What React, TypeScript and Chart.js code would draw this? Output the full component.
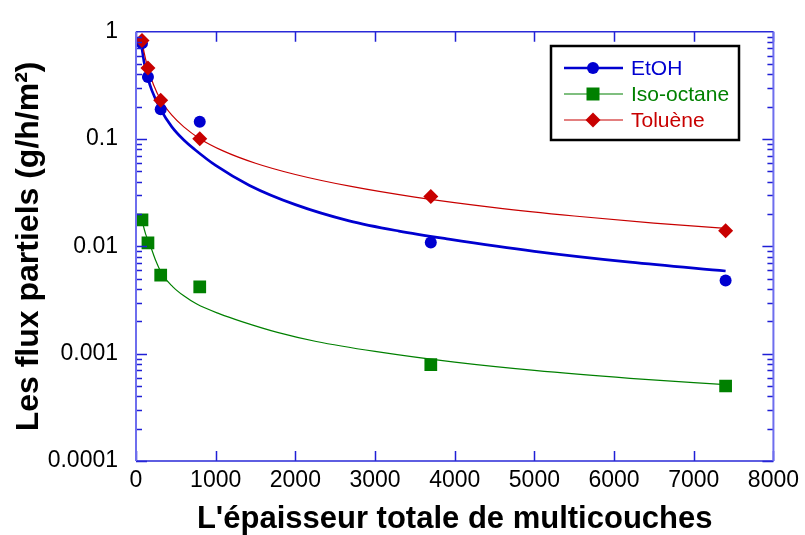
import React, { useEffect, useRef } from 'react';
import { Chart, registerables } from 'chart.js';

Chart.register(...registerables);

// ---- axis ticks ----
const X_TICK_VALUES = [0, 1000, 2000, 3000, 4000, 5000, 6000, 7000, 8000];
const X_TICK_LABELS = ['0', '1000', '2000', '3000', '4000', '5000', '6000', '7000', '8000'];
const Y_TICK_VALUES = [0.0001, 0.001, 0.01, 0.1, 1];
const Y_TICK_LABELS = ['0.0001', '0.001', '0.01', '0.1', '1'];

// ---- measured points ----
const THICKNESS = [75, 150, 310, 800, 3700, 7400];
const ETOH = [0.78, 0.38, 0.19, 0.145, 0.0109, 0.0048];
const ISO_OCTANE = [0.0177, 0.0108, 0.0054, 0.0042, 0.00079, 0.0005];
const TOLUENE = [0.83, 0.46, 0.23, 0.101, 0.0292, 0.014];

// ---- fitted curves ----
const FIT_ETOH_X = [60, 100, 146, 200, 309, 450, 600, 737, 1000, 1425, 2000, 2675, 3300, 3925, 5000, 6200, 7400];
const FIT_ETOH_Y = [0.84, 0.53, 0.378, 0.283, 0.189, 0.13, 0.098, 0.08, 0.0568, 0.037, 0.0245, 0.0173, 0.0139, 0.0117, 0.009, 0.00713, 0.0059];
const FIT_TOL_X = [65, 100, 150, 220, 313, 450, 600, 800, 1100, 1500, 2000, 2700, 3500, 4500, 5500, 6500, 7400];
const FIT_TOL_Y = [0.93, 0.65, 0.46, 0.321, 0.23, 0.167, 0.13, 0.101, 0.0773, 0.0596, 0.0468, 0.0362, 0.0288, 0.023, 0.0192, 0.0165, 0.0147];
const FIT_ISO_X = [75, 120, 175, 250, 325, 463, 600, 763, 1050, 1338, 1775, 2263, 3000, 4000, 5000, 6200, 7400];
const FIT_ISO_Y = [0.0175, 0.0131, 0.0104, 0.0073, 0.00555, 0.0042, 0.00346, 0.0029, 0.00235, 0.00198, 0.00158, 0.0013, 0.00105, 0.000834, 0.000698, 0.00059, 0.000514];

const SERIES_NAMES = ['EtOH', 'Iso-octane', 'Toluène'];
const BLUE = '#0000d0';
const GREEN = '#008000';
const RED = '#c80000';

const FONT = "'Liberation Sans', Arial, sans-serif";

const zip = (xs: number[], ys: number[]) => xs.map((x, i) => ({ x, y: ys[i] }));

const framePlugin = {
  id: 'frameTicksLegend',
  afterDraw(chart: any) {
    const { ctx, chartArea: a, scales } = chart;
    const xs = scales.x;
    const ys = scales.y;
    ctx.save();
    // inward ticks
    ctx.strokeStyle = '#1f1fd6';
    ctx.lineWidth = 1.5;
    ctx.beginPath();
    X_TICK_VALUES.forEach((v) => {
      const px = Math.round(xs.getPixelForValue(v)) + 0.5;
      ctx.moveTo(px, a.bottom);
      ctx.lineTo(px, a.bottom - 10);
      ctx.moveTo(px, a.top);
      ctx.lineTo(px, a.top + 10);
    });
    for (let d = 0; d < Y_TICK_VALUES.length - 1; d++) {
      for (let k = 1; k <= 9; k++) {
        const v = Y_TICK_VALUES[d] * k;
        const py = Math.round(ys.getPixelForValue(v)) + 0.5;
        const len = k === 1 ? 11 : 6;
        ctx.moveTo(a.left, py);
        ctx.lineTo(a.left + len, py);
        ctx.moveTo(a.right, py);
        ctx.lineTo(a.right - len, py);
      }
    }
    ctx.stroke();
    // frame
    ctx.strokeStyle = '#2a2ad8';
    ctx.lineWidth = 1.5;
    ctx.beginPath();
    ctx.moveTo(a.left, a.top);
    ctx.lineTo(a.right, a.top);
    ctx.moveTo(a.left, a.bottom);
    ctx.lineTo(a.right, a.bottom);
    ctx.stroke();
    ctx.strokeStyle = '#6e6eee';
    ctx.lineWidth = 2;
    ctx.beginPath();
    ctx.moveTo(a.left, a.top);
    ctx.lineTo(a.left, a.bottom);
    ctx.moveTo(a.right, a.top);
    ctx.lineTo(a.right, a.bottom);
    ctx.stroke();

    // legend
    const lx = 551, ly = 46, lw = 188, lh = 94;
    ctx.fillStyle = '#ffffff';
    ctx.fillRect(lx, ly, lw, lh);
    ctx.strokeStyle = '#000000';
    ctx.lineWidth = 2.5;
    ctx.strokeRect(lx, ly, lw, lh);
    const colors = [BLUE, GREEN, RED];
    const widths = [2.7, 1.2, 1.2];
    const rows = [68, 94, 120];
    ctx.font = `21px ${FONT}`;
    ctx.textBaseline = 'middle';
    ctx.textAlign = 'left';
    rows.forEach((ry, i) => {
      ctx.strokeStyle = colors[i];
      ctx.lineWidth = widths[i];
      ctx.beginPath();
      ctx.moveTo(564, ry);
      ctx.lineTo(623, ry);
      ctx.stroke();
      ctx.fillStyle = colors[i];
      const mx = 593;
      ctx.beginPath();
      if (i === 0) {
        ctx.arc(mx, ry, 6, 0, Math.PI * 2);
      } else if (i === 1) {
        ctx.rect(mx - 6.5, ry - 6.5, 13, 13);
      } else {
        ctx.moveTo(mx - 7.5, ry);
        ctx.lineTo(mx, ry - 7.5);
        ctx.lineTo(mx + 7.5, ry);
        ctx.lineTo(mx, ry + 7.5);
        ctx.closePath();
      }
      ctx.fill();
      ctx.fillText(SERIES_NAMES[i], 631, ry + 1);
    });
    ctx.restore();
  },
};

export default function App() {
  const ref = useRef<HTMLCanvasElement | null>(null);
  useEffect(() => {
    if (!ref.current) return;
    const chart = new Chart(ref.current, {
      type: 'scatter',
      data: {
        datasets: [
          {
            label: 'fit ' + SERIES_NAMES[0],
            data: zip(FIT_ETOH_X, FIT_ETOH_Y),
            showLine: true,
            borderColor: BLUE,
            borderWidth: 2.7,
            pointRadius: 0,
            cubicInterpolationMode: 'monotone',
            order: 5,
          } as any,
          {
            label: 'fit ' + SERIES_NAMES[1],
            data: zip(FIT_ISO_X, FIT_ISO_Y),
            showLine: true,
            borderColor: GREEN,
            borderWidth: 1.2,
            pointRadius: 0,
            cubicInterpolationMode: 'monotone',
            order: 4,
          } as any,
          {
            label: 'fit ' + SERIES_NAMES[2],
            data: zip(FIT_TOL_X, FIT_TOL_Y),
            showLine: true,
            borderColor: RED,
            borderWidth: 1.2,
            pointRadius: 0,
            cubicInterpolationMode: 'monotone',
            order: 3,
          } as any,
          {
            label: SERIES_NAMES[0],
            data: zip(THICKNESS, ETOH),
            pointStyle: 'circle',
            pointRadius: 6,
            backgroundColor: BLUE,
            borderColor: BLUE,
            borderWidth: 0,
            order: 1,
          },
          {
            label: SERIES_NAMES[1],
            data: zip(THICKNESS, ISO_OCTANE),
            pointStyle: 'rect',
            pointRadius: 9,
            backgroundColor: GREEN,
            borderColor: GREEN,
            borderWidth: 0,
            order: 2,
          },
          {
            label: SERIES_NAMES[2],
            data: zip(THICKNESS, TOLUENE),
            pointStyle: 'rectRot',
            pointRadius: 7.5,
            backgroundColor: RED,
            borderColor: RED,
            borderWidth: 0,
            order: 0,
          },
        ],
      },
      options: {
        animation: false,
        responsive: false,
        maintainAspectRatio: false,
        layout: { padding: { left: 0, top: 23, right: 29, bottom: 0 } },
        plugins: { legend: { display: false }, tooltip: { enabled: false } },
        scales: {
          x: {
            type: 'linear',
            min: 0,
            max: 8000,
            afterBuildTicks: (s: any) => {
              s.ticks = X_TICK_VALUES.map((v) => ({ value: v }));
            },
            afterFit: (s: any) => {
              s.height = 74;
            },
            grid: { display: false, drawTicks: false },
            border: { display: false },
            ticks: {
              color: '#000',
              font: { family: FONT, size: 23 },
              padding: 6,
              maxRotation: 0,
              autoSkip: false,
              callback: (v: any) => {
                const i = X_TICK_VALUES.indexOf(Number(v));
                return i >= 0 ? X_TICK_LABELS[i] : '';
              },
            },
            title: {
              display: true,
              text: "L'épaisseur totale de multicouches",
              color: '#000',
              font: { family: FONT, size: 31, weight: 'bold', lineHeight: 1 },
              padding: { top: 0, bottom: 0 },
            },
          },
          y: {
            type: 'logarithmic',
            min: 0.0001,
            max: 1,
            afterBuildTicks: (s: any) => {
              s.ticks = Y_TICK_VALUES.map((v) => ({ value: v }));
            },
            afterFit: (s: any) => {
              s.width = 136;
            },
            grid: { display: false, drawTicks: false },
            border: { display: false },
            ticks: {
              color: '#000',
              font: { family: FONT, size: 23 },
              padding: 18,
              autoSkip: false,
              callback: (v: any) => {
                const i = Y_TICK_VALUES.findIndex((t) => Math.abs(Math.log10(t) - Math.log10(Number(v))) < 1e-6);
                return i >= 0 ? Y_TICK_LABELS[i] : '';
              },
            },
            title: {
              display: true,
              text: 'Les flux partiels (g/h/m²)',
              color: '#000',
              font: { family: FONT, size: 32, weight: 'bold', lineHeight: 1 },
              padding: { top: 13, bottom: 0 },
            },
          },
        },
      },
      plugins: [framePlugin],
    });
    return () => chart.destroy();
  }, []);
  return (
    <div style={{ position: 'fixed', left: 0, top: 0, width: 805, height: 535, background: '#fff' }}>
      <canvas ref={ref} width={805} height={535} />
    </div>
  );
}
